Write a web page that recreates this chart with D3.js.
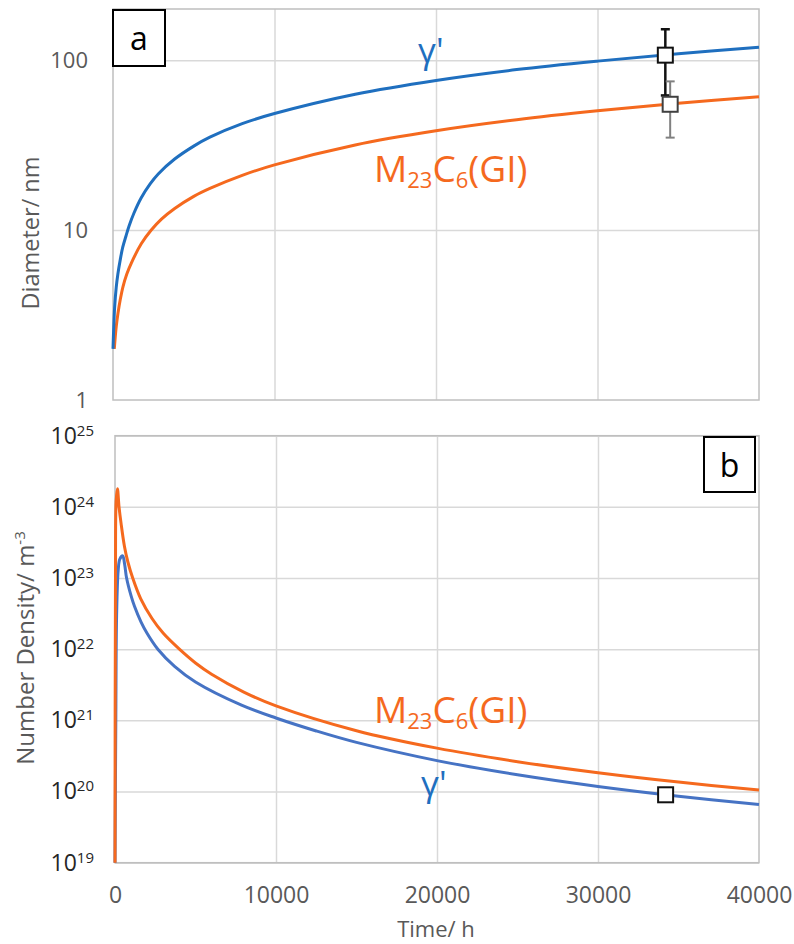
<!DOCTYPE html>
<html><head><meta charset="utf-8">
<script src="https://cdn.jsdelivr.net/npm/d3@7"></script>
<style>
body{margin:0;background:#fff}
svg{display:block}
text{font-family:"Open Sans",sans-serif}
</style>
</head><body>
<svg id="c" width="794" height="944"></svg>
<script>
// ---------- data ----------
const timeTicks = [0, 10000, 20000, 30000, 40000];
const diamTicks = [1, 10, 100];
const diamGrid = [10, 100];
const densityTicks = [1e19, 1e20, 1e21, 1e22, 1e23, 1e24, 1e25];
const timeGrid = [10000, 20000, 30000];

// panel a: diameter (nm) vs time (h)
const gammaDiamTime = [0, 100, 200, 300, 450, 600, 800, 1000, 1300, 1750, 2300, 2800, 3800, 5000, 6000, 8000, 10000, 15000, 20000, 25000, 30000, 35000, 40000];
const gammaDiam     = [2.0, 3.5, 4.6, 5.5, 6.7, 7.9, 9.2, 10.6, 12.6, 15.5, 18.7, 21.4, 26.1, 31.2, 35.2, 42.3, 48.5, 63, 76, 88, 98.7, 109, 119];
const m23DiamTime   = [80, 200, 310, 450, 620, 850, 1135, 1750, 2370, 3000, 3820, 5000, 6000, 8000, 10000, 15000, 20000, 25000, 30000, 35000, 40000];
const m23Diam       = [2.0, 2.7, 3.25, 3.9, 4.65, 5.5, 6.4, 8.3, 10.0, 11.6, 13.4, 15.8, 17.6, 21.0, 24.2, 31.7, 38.4, 44.6, 50.3, 55.8, 60.9];

// panel b: number density (m^-3) vs time (h)
const m23DensTime   = [0, 30, 70, 150, 250, 375, 585, 800, 1100, 1600, 2300, 3000, 4000, 5000, 6000, 8000, 10000, 15000, 20000, 25000, 30000, 35000, 40000];
const m23Dens       = [1e19, 1e23, 1.2e24, 1.8e24, 1.0e24, 5.9e23, 2.8e23, 1.68e23, 1.0e23, 5.1e22, 2.7e22, 1.67e22, 1.0e22, 6.4e21, 4.45e21, 2.5e21, 1.6e21, 7.16e20, 4.07e20, 2.63e20, 1.84e20, 1.36e20, 1.05e20];
const gammaDensTime = [0, 50, 100, 200, 300, 480, 600, 720, 1000, 1210, 1620, 2000, 2660, 3700, 5000, 7860, 10000, 12500, 15000, 20000, 25000, 30000, 35000, 40000];
const gammaDens     = [1e19, 1e21, 3e22, 1.3e23, 1.85e23, 2.05e23, 1.55e23, 1.0e23, 5.6e22, 4.0e22, 2.4e22, 1.66e22, 1.0e22, 5.75e21, 3.47e21, 1.64e21, 1.08e21, 7.1e20, 4.9e20, 2.72e20, 1.72e20, 1.18e20, 8.6e19, 6.56e19];

// experimental points [time, value, error]
const gammaDiamExp = [34200, 107, 45];
const m23DiamExp   = [34500, 55, 20];
const gammaDensExp = [34200, 9e19];

// ---------- drawing ----------
const svg = d3.select('#c');
const BLUE_A = '#1f6fbf', BLUE_B = '#4673c4', ORANGE = '#f5691e';
const GRID = '#d9d9d9', FRAME = '#bfbfbf', GREY_TXT = '#595959';

const xa = d3.scaleLinear().domain([0, 40000]).range([113, 759]);
const ya = d3.scaleLog().domain([1, 200]).range([400, 9]);
const xb = d3.scaleLinear().domain([0, 40000]).range([115, 759]);
const yb = d3.scaleLog().domain([1e19, 1e25]).range([862.7, 435.7]);

function panel(x, y, hGrid) {
  const [x0, x1] = x.range(), [y1, y0] = y.range();
  const g = svg.append('g');
  g.append('g').attr('transform', `translate(${x0},0)`)
    .call(d3.axisLeft(y).tickValues(hGrid).tickSize(-(x1 - x0)).tickFormat(''))
    .call(s => { s.select('.domain').remove(); s.selectAll('line').attr('stroke', GRID).attr('stroke-width', 1.5); });
  g.append('g').attr('transform', `translate(0,${y1})`)
    .call(d3.axisBottom(x).tickValues(timeGrid).tickSize(-(y1 - y0)).tickFormat(''))
    .call(s => { s.select('.domain').remove(); s.selectAll('line').attr('stroke', GRID).attr('stroke-width', 1.5); });
  g.append('rect').attr('x', x0).attr('y', y0).attr('width', x1 - x0).attr('height', y1 - y0)
    .attr('fill', 'none').attr('stroke', FRAME).attr('stroke-width', 1.5);
  return g;
}

panel(xa, ya, diamGrid);
panel(xb, yb, densityTicks);

// y tick labels panel a
svg.append('g').attr('transform', `translate(${xa.range()[0]},0)`)
  .call(d3.axisLeft(ya).tickValues(diamTicks).tickSize(0).tickPadding(25).tickFormat(d3.format('d')))
  .call(s => { s.select('.domain').remove();
    s.selectAll('text').attr('font-size', 22).attr('fill', GREY_TXT).attr('font-family', '"Open Sans",sans-serif'); });

// y tick labels panel b (powers of ten)
svg.append('g').attr('transform', `translate(${xb.range()[0]},0)`)
  .call(d3.axisLeft(yb).tickValues(densityTicks).tickSize(0).tickPadding(21).tickFormat(''))
  .call(s => { s.select('.domain').remove();
    s.selectAll('text').attr('font-size', 23).attr('fill', '#262626').attr('font-family', '"Open Sans",sans-serif')
      .each(function(d) {
        const t = d3.select(this);
        t.append('tspan').text('10');
        t.append('tspan').attr('dy', -8).attr('font-size', 15).text(Math.round(Math.log10(d)));
      }); });

// x tick labels
svg.append('g').attr('transform', `translate(0,${yb.range()[0]})`)
  .call(d3.axisBottom(xb).tickValues(timeTicks).tickSize(0).tickPadding(24).tickFormat(d3.format('d')))
  .call(s => { s.select('.domain').remove();
    s.selectAll('text').attr('font-size', 23).attr('fill', GREY_TXT).attr('font-family', '"Open Sans",sans-serif'); });

// axis titles
svg.append('text').attr('transform', 'translate(38.5,233) rotate(-90)').attr('text-anchor', 'middle')
  .attr('font-size', 23.5).attr('fill', GREY_TXT).text('Diameter/ nm');
const nt = svg.append('text').attr('transform', 'translate(33.5,648) rotate(-90)').attr('text-anchor', 'middle')
  .attr('font-size', 24).attr('fill', GREY_TXT);
nt.append('tspan').text('Number Density/ m');
nt.append('tspan').attr('dy', -9).attr('font-size', 15).text('-3');
svg.append('text').attr('x', 436).attr('y', 937).attr('text-anchor', 'middle')
  .attr('font-size', 22).attr('fill', GREY_TXT).text('Time/ h');

// curves
const zip = (a, b) => a.map((t, i) => [t, b[i]]);
function curve(x, y, data, color) {
  svg.append('path').datum(data)
    .attr('d', d3.line().x(d => x(d[0])).y(d => y(d[1])).curve(d3.curveCatmullRom.alpha(0.5)))
    .attr('fill', 'none').attr('stroke', color).attr('stroke-width', 3).attr('stroke-linejoin', 'round');
}
curve(xa, ya, zip(m23DiamTime, m23Diam), ORANGE);
curve(xa, ya, zip(gammaDiamTime, gammaDiam), BLUE_A);
curve(xb, yb, zip(gammaDensTime, gammaDens), BLUE_B);
curve(xb, yb, zip(m23DensTime, m23Dens), ORANGE);

// error bars + markers
function errbar(x, y, p, color, w) {
  const cx = x(p[0]), yt = y(p[1] + p[2]), ybt = y(p[1] - p[2]);
  const g = svg.append('g').attr('stroke', color).attr('stroke-width', w);
  g.append('line').attr('x1', cx).attr('x2', cx).attr('y1', yt).attr('y2', ybt);
  g.append('line').attr('x1', cx - 4.5).attr('x2', cx + 4.5).attr('y1', yt).attr('y2', yt);
  g.append('line').attr('x1', cx - 4.5).attr('x2', cx + 4.5).attr('y1', ybt).attr('y2', ybt);
}
function square(x, y, p, color) {
  svg.append('rect').attr('x', x(p[0]) - 7.5).attr('y', y(p[1]) - 7.5).attr('width', 15).attr('height', 15)
    .attr('fill', '#fff').attr('stroke', color).attr('stroke-width', 2);
}
errbar(xa, ya, gammaDiamExp, '#111', 2.5);
errbar(xa, ya, m23DiamExp, '#808080', 2);
square(xa, ya, gammaDiamExp, '#111');
square(xa, ya, m23DiamExp, '#404040');
square(xb, yb, gammaDensExp, '#111');

// curve labels
function gammaLabel(x, y) {
  svg.append('text').attr('x', x).attr('y', y).attr('font-size', 35).attr('fill', BLUE_A).text("\u03b3'");
}
function m23Label(x, y) {
  const t = svg.append('text').attr('x', x).attr('y', y).attr('font-size', 37).attr('fill', ORANGE);
  t.append('tspan').text('M');
  t.append('tspan').attr('dy', 6).attr('font-size', 22).text('23');
  t.append('tspan').attr('dy', -6).text('C');
  t.append('tspan').attr('dy', 6).attr('font-size', 22).text('6');
  t.append('tspan').attr('dy', -6).text('(GI)');
}
gammaLabel(418, 63);
m23Label(374, 182);
m23Label(374, 723);
gammaLabel(421, 796);

// panel letters
function letterBox(x, y, w, h, s, base) {
  svg.append('rect').attr('x', x).attr('y', y).attr('width', w).attr('height', h)
    .attr('fill', '#fff').attr('stroke', '#000').attr('stroke-width', 2);
  svg.append('text').attr('x', x + w / 2).attr('y', base).attr('text-anchor', 'middle')
    .attr('font-size', 32).attr('fill', '#000').text(s);
}
letterBox(113, 10, 52, 56, 'a', 50);
letterBox(704, 437, 51, 55, 'b', 477);
</script>
</body></html>
